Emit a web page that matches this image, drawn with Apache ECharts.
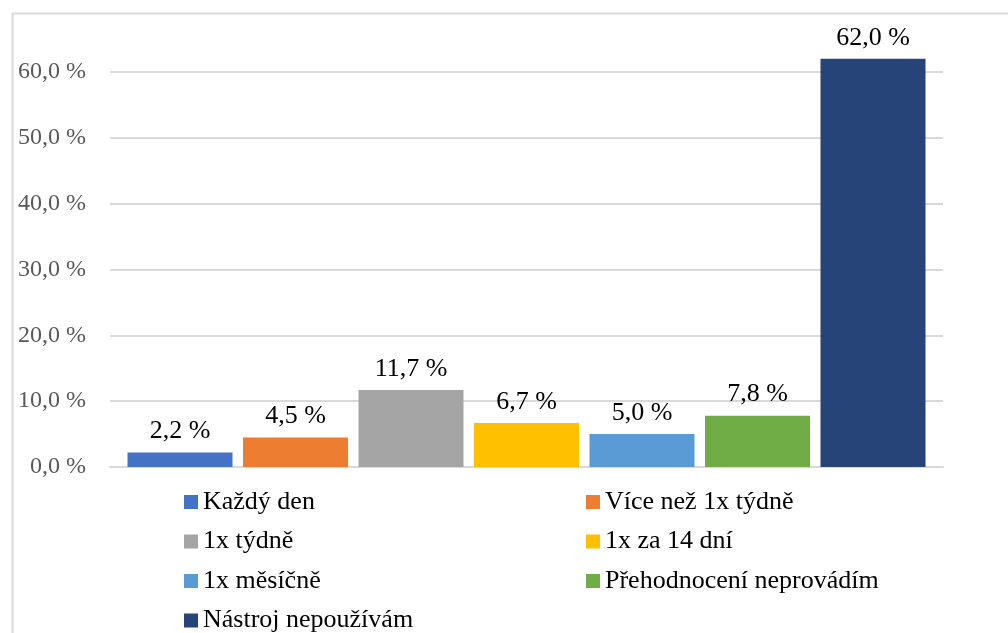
<!DOCTYPE html>
<html>
<head>
<meta charset="utf-8">
<script src="https://cdn.jsdelivr.net/npm/echarts@6/dist/echarts.min.js"></script>
<style>
  html, body { margin: 0; padding: 0; background: #fff; }
  #main { width: 1008px; height: 633px; }
</style>
</head>
<body>
<div id="main"></div>
<script>
// kategorie odpovědí a podíly v %
var names = ['Každý den', 'Více než 1x týdně', '1x týdně', '1x za 14 dní', '1x měsíčně', 'Přehodnocení neprovádím', 'Nástroj nepoužívám'];
var values = [2.2, 4.5, 11.7, 6.7, 5.0, 7.8, 62.0];
var colors = ['#4472C4', '#ED7D31', '#A5A5A5', '#FFC000', '#5B9BD5', '#70AD47', '#264478'];
var leftCol = ['Každý den', '1x týdně', '1x měsíčně', 'Nástroj nepoužívám'];
var rightCol = ['Více než 1x týdně', '1x za 14 dní', 'Přehodnocení neprovádím'];

var font = "'Liberation Serif', 'Times New Roman', serif";

function pct(v){
    return v.toFixed(1).replace('.', ',') + ' %';
}

var series = [];
for (var i = 0; i < names.length; i++) {
    series.push({
        name: names[i],
        type: 'bar',
        data: [values[i]],
        barWidth: 105,
        barGap: '10%',
        clip: false,
        itemStyle: { color: colors[i] },
        label: {
            show: true,
            position: 'top',
            distance: 8,
            color: '#000',
            fontFamily: font,
            fontSize: 26,
            formatter: function(p){ return pct(p.value); }
        }
    });
}

var legendBase = {
    orient: 'vertical',
    top: 488,
    height: 160,
    padding: 0,
    itemWidth: 14,
    itemHeight: 14,
    itemGap: 11.5,
    icon: 'rect',
    selectedMode: false,
    textStyle: { color: '#000', fontFamily: font, fontSize: 26, lineHeight: 28 }
};

var option = {
    animation: false,
    color: colors,
    graphic: [{
        type: 'rect',
        left: 10, top: 11,
        shape: { width: 1100, height: 700 },
        style: { fill: 'none', stroke: '#d9d9d9', lineWidth: 2 },
        silent: true
    }],
    grid: { left: 110, right: 65, top: 72, bottom: 166 },
    legend: [
        Object.assign({}, legendBase, { left: 184, data: leftCol }),
        Object.assign({}, legendBase, { left: 586, data: rightCol })
    ],
    xAxis: {
        type: 'category',
        data: [''],
        axisLine: { lineStyle: { color: '#d9d9d9', width: 2 } },
        axisTick: { show: false },
        axisLabel: { show: false }
    },
    yAxis: {
        type: 'value',
        min: 0,
        max: 60,
        interval: 10,
        axisLine: { show: false },
        axisTick: { show: false },
        splitLine: { lineStyle: { color: '#d9d9d9', width: 2 } },
        axisLabel: {
            color: '#595959',
            fontFamily: font,
            fontSize: 24,
            margin: 24,
            formatter: function(v){ return pct(v); }
        }
    },
    series: series
};

var myChart = echarts.init(document.getElementById('main'));
myChart.setOption(option);
</script>
</body>
</html>
